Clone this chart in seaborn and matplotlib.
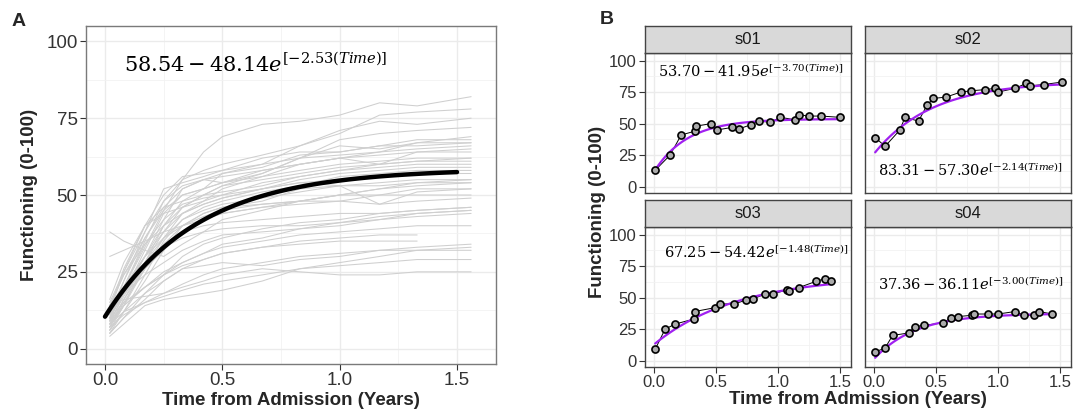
import numpy as np
import pandas as pd
import matplotlib
matplotlib.use("Agg")
import matplotlib.pyplot as plt
from matplotlib.ticker import MultipleLocator
import seaborn as sns

sns.set_theme(style="white")
plt.rcParams['font.family'] = ['Liberation Sans', 'DejaVu Sans']
plt.rcParams['mathtext.fontset'] = 'dejavuserif'

# ---- Panel A: all patients ----
visit_times = [0.02, 0.08, 0.17, 0.25, 0.33, 0.42, 0.5, 0.67, 0.83, 1.0, 1.17, 1.33, 1.56]
nan = np.nan
patient_scores = [
    [12, 20, 33, 45, 55, 64, 69, 73, 74, 76, 80, 79, 82],
    [15, 25, 38, 48, 55, 58, 60, 63, 66, 70, 76, 77, 78],
    [10, 18, 30, 40, 48, 52, 57, 60, 66, 71, 74, 73, 75],
    [8, 16, 28, 38, 46, 50, 53, 57, 62, 68, 70, 71, 72],
    [14, 24, 36, 46, 52, 55, 54, 58, 60, 62, 64, 67, 69],
    [9, 20, 35, 48, 53, 55, 57, 59, 63, 64, 66, 66, 67],
    [12, 22, 38, 52, 54, 56, 58, 60, 62, 63, 64, 65, 66],
    [7, 15, 26, 36, 44, 48, 52, 56, 60, 62, 60, 64, 64],
    [10, 18, 32, 44, 50, 52, 54, 56, 58, 60, 61, 62, 62],
    [6, 14, 28, 40, 46, 50, 53, 55, 57, 59, 60, 61, 61],
    [13, 26, 40, 46, 48, 50, 51, 53, 56, 58, 59, 60, 60],
    [8, 18, 30, 38, 44, 47, 49, 52, 55, 57, 58, 59, 59],
    [5, 12, 24, 35, 42, 46, 48, 51, 53, 56, 57, 58, 58],
    [11, 20, 34, 42, 47, 49, 50, 52, 54, 55, 56, 57, 57],
    [9, 17, 28, 36, 42, 45, 47, 49, 51, 53, 54, 55, 55],
    [7, 14, 26, 34, 40, 44, 46, 48, 52, 53, 53, 54, 54],
    [14, 24, 34, 40, 44, 47, 49, 52, 54, 53, 47, 51, 52],
    [6, 12, 22, 32, 40, 44, 46, 47, 48, 50, 50, 50, 50],
    [10, 20, 30, 36, 40, 43, 45, 47, 48, 48, 47, 48, 49],
    [5, 10, 18, 24, 30, 34, 36, 39, 41, 42, 44, 45, 46],
    [8, 14, 20, 25, 28, 31, 34, 36, 39, 41, 43, 44, 45],
    [12, 18, 24, 28, 32, 35, 37, 38, 39, 40, 42, 43, 44],
    [9, 14, 20, 24, 28, 31, 33, 35, 37, 38, 39, 40, 40],
    [6, 12, 18, 22, 26, 29, 31, 33, 35, 36, 37, 37, nan],
    [10, 15, 20, 24, 27, 29, 31, 33, 34, 35, 35, 35, nan],
    [7, 11, 15, 18, 21, 24, 26, 28, 30, 31, 32, 32, 32],
    [8, 12, 15, 17, 19, 21, 22, 24, 26, 27, 28, 29, 29],
    [14, 16, 17, 18, 20, 22, 24, 26, 25, 24, 24, 25, 25],
    [30, 32, 35, 38, 40, 42, 44, 46, 48, 50, 52, 54, 55],
    [38, 35, 32, 30, 34, 38, 42, 45, 48, 50, 52, 53, 54],
    [5, 10, 16, 22, 26, 27, 28, 27, 29, 30, 32, 33, 34],
    [4, 8, 14, 16, 17, 18, 19, 22, 26, 28, 30, 32, 33],
    [10, 20, 30, 42, 52, 55, 56, 58, 60, 62, 63, 64, 65],
    [12, 25, 40, 50, 56, 57, 58, 62, 64, 64, 66, 68, 68],
    [9, 22, 36, 45, 50, 52, 54, 57, 62, 66, 65, 67, 67],
    [16, 28, 40, 44, 46, 48, 50, 54, 56, 58, 60, 61, 62],
    [11, 18, 26, 32, 38, 42, 44, 46, 47, 48, 50, 52, 52],
    [7, 16, 26, 34, 38, 40, 41, 42, 43, 44, 44, 45, 46],
    [13, 20, 28, 33, 36, 38, 39, 40, 40, 41, 42, 44, 45],
]
overall_fit = [58.54, 48.14, 2.53]   # a - b * exp(-c * Time)

# ---- Panel B: four example subjects ----
subject_ids = ["s01", "s02", "s03", "s04"]
s01_time = [0.01, 0.13, 0.22, 0.33, 0.34, 0.46, 0.51, 0.63, 0.69, 0.78, 0.85, 0.94, 1.02, 1.14, 1.17, 1.25, 1.35, 1.50]
s01_score = [13, 25, 41, 44, 48, 50, 45, 47, 46, 49, 52, 51, 55, 53, 57, 56, 56, 55]
s02_time = [0.01, 0.09, 0.21, 0.25, 0.36, 0.43, 0.48, 0.58, 0.70, 0.78, 0.90, 0.98, 1.00, 1.14, 1.23, 1.26, 1.37, 1.52]
s02_score = [39, 32, 45, 55, 52, 65, 70, 71, 75, 76, 77, 78, 75, 78, 82, 80, 81, 83]
s03_time = [0.01, 0.09, 0.17, 0.32, 0.33, 0.49, 0.53, 0.65, 0.74, 0.80, 0.90, 0.96, 1.07, 1.09, 1.17, 1.31, 1.38, 1.43]
s03_score = [9, 25, 29, 33, 39, 42, 45, 45, 48, 49, 53, 53, 56, 55, 58, 63, 65, 63]
s04_time = [0.01, 0.09, 0.15, 0.28, 0.33, 0.40, 0.56, 0.62, 0.68, 0.79, 0.81, 0.92, 1.00, 1.14, 1.21, 1.29, 1.33, 1.44]
s04_score = [7, 10, 20, 22, 27, 28, 30, 34, 35, 36, 37, 37, 37, 39, 36, 36, 39, 37]
subject_fits = [[53.70, 41.95, 3.70], [83.31, 57.30, 2.14], [67.25, 54.42, 1.48], [37.36, 36.11, 3.00]]
fit_labels = [
    r"$53.70 - 41.95e^{[-3.70(Time)]}$",
    r"$83.31 - 57.30e^{[-2.14(Time)]}$",
    r"$67.25 - 54.42e^{[-1.48(Time)]}$",
    r"$37.36 - 36.11e^{[-3.00(Time)]}$",
]
label_spots = [(0.03, 92), (0.03, 13), (0.08, 86), (0.03, 61)]

subject_times = [s01_time, s02_time, s03_time, s04_time]
subject_scores = [s01_score, s02_score, s03_score, s04_score]

# long tables
rows = []
for pid, scores in enumerate(patient_scores):
    for t, s in zip(visit_times, scores):
        if not np.isnan(s):
            rows.append((pid, t, s))
df_a = pd.DataFrame(rows, columns=["id", "time", "score"])

W, H = 1075, 412
fig = plt.figure(figsize=(W / 100, H / 100), dpi=100)


def box(x0, y0, x1, y1):
    return [x0 / W, 1 - y1 / H, (x1 - x0) / W, (y1 - y0) / H]


def style_panel(ax, edge, labelsize):
    ax.xaxis.set_major_locator(MultipleLocator(0.5))
    ax.xaxis.set_minor_locator(MultipleLocator(0.25))
    ax.yaxis.set_major_locator(MultipleLocator(25))
    ax.yaxis.set_minor_locator(MultipleLocator(12.5))
    ax.grid(which="major", color="#ebebeb", lw=1.0)
    ax.grid(which="minor", color="#f2f2f2", lw=0.6)
    ax.set_axisbelow(True)
    for sp in ax.spines.values():
        sp.set_color(edge)
        sp.set_linewidth(1.0)
    ax.tick_params(which="major", length=4, width=0.8, color="#333333",
                   labelsize=labelsize, labelcolor="#333333", pad=2,
                   bottom=True, left=True)
    ax.tick_params(which="minor", length=0)
    ax.set_xlabel("")
    ax.set_ylabel("")


# ---- Panel A ----
axA = fig.add_axes(box(86, 26, 496, 364))
sns.lineplot(data=df_a, x="time", y="score", units="id", estimator=None,
             color="#cfcfcf", lw=0.75, legend=False, ax=axA)
a, b, c = overall_fit
grid_t = np.linspace(0, 1.5, 120)
curve_a = pd.DataFrame({"time": grid_t, "score": a - b * np.exp(-c * grid_t)})
sns.lineplot(data=curve_a, x="time", y="score", color="black", lw=3.2, ax=axA)
axA.set_xlim(-0.081, 1.666)
axA.set_ylim(-5, 105)
style_panel(axA, "#7a7a7a", 13.5)
axA.set_xticks([0, 0.5, 1.0, 1.5])
axA.set_xticklabels(["0.0", "0.5", "1.0", "1.5"])
axA.text(0.08, 92.5, r"$58.54 - 48.14e^{[-2.53(Time)]}$", fontsize=15,
         va="center", ha="left", color="black")
axA.set_ylabel("Functioning (0-100)", fontsize=13.5, fontweight="bold", labelpad=6)
axA.set_xlabel("Time from Admission (Years)", fontsize=13.5, fontweight="bold", labelpad=2)
fig.text(12 / W, 1 - 22 / H, "A", fontsize=14, fontweight="bold", va="center")

# ---- Panel B ----
panel_boxes = [(645, 53, 851, 193), (865, 53, 1071, 193),
               (645, 227, 851, 367), (865, 227, 1071, 367)]
for k, sid in enumerate(subject_ids):
    x0, y0, x1, y1 = panel_boxes[k]
    ax = fig.add_axes(box(x0, y0, x1, y1))
    df_s = pd.DataFrame({"time": subject_times[k], "score": subject_scores[k]})
    sns.lineplot(data=df_s, x="time", y="score", color="black", lw=0.7, ax=ax)
    fa, fb, fc = subject_fits[k]
    tt = np.linspace(min(subject_times[k]), max(subject_times[k]), 100)
    df_fit = pd.DataFrame({"time": tt, "score": fa - fb * np.exp(-fc * tt)})
    sns.lineplot(data=df_fit, x="time", y="score", color="#a020f0", lw=1.6, ax=ax)
    sns.scatterplot(data=df_s, x="time", y="score", s=26, color="#ababab",
                    edgecolor="black", linewidth=1.2, zorder=5, ax=ax)
    ax.set_xlim(-0.072, 1.59)
    ax.set_ylim(-5, 106)
    style_panel(ax, "#444444", 12)
    ax.set_xticks([0, 0.5, 1.0, 1.5])
    ax.set_xticklabels(["0.0", "0.5", "1.0", "1.5"])
    if k < 2:
        ax.tick_params(axis="x", bottom=False, labelbottom=False)
    if k % 2 == 1:
        ax.tick_params(axis="y", left=False, labelleft=False)
    lx, ly = label_spots[k]
    ax.text(lx, ly, fit_labels[k], fontsize=10.5, va="center", ha="left", color="black")
    # strip
    st = fig.add_axes(box(x0, y0 - 27, x1, y0))
    st.set_facecolor("#d9d9d9")
    st.set_xticks([])
    st.set_yticks([])
    for sp in st.spines.values():
        sp.set_color("#444444")
        sp.set_linewidth(1.0)
    st.text(0.5, 0.5, sid, fontsize=12, color="#1a1a1a", ha="center", va="center",
            transform=st.transAxes)

fig.text(598 / W, 1 - 212 / H, "Functioning (0-100)", fontsize=13.5, fontweight="bold",
         rotation=90, ha="center", va="center")
fig.text(858 / W, 1 - 400 / H, "Time from Admission (Years)", fontsize=13.5,
         fontweight="bold", ha="center", va="center")
fig.text(600 / W, 1 - 20 / H, "B", fontsize=14, fontweight="bold", va="center")

fig.savefig("out.png", dpi=100)
